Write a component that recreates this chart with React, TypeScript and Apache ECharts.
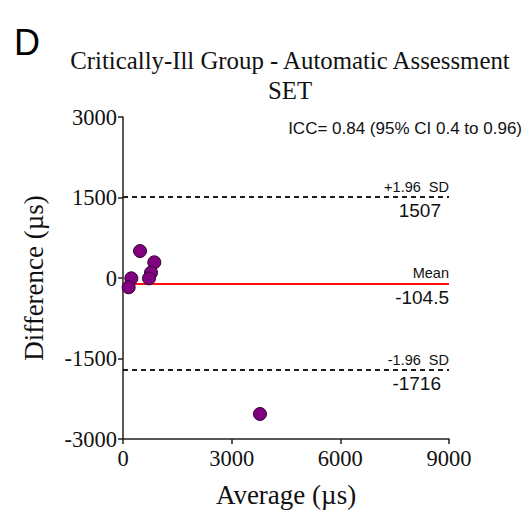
import React, { useEffect, useRef } from "react";
import * as echarts from "echarts";

const averages = [470, 864, 773, 718, 230, 157, 3781];
const differences = [503, 292, 99, -6, -6, -173, -2534];
const upperLoA = 1507;
const meanDiff = -104.5;
const lowerLoA = -1716;
const yTicks = [-3000, -1500, 0, 1500, 3000];
const xTicks = [0, 3000, 6000, 9000];

export default function App() {
  const ref = useRef<HTMLDivElement>(null);
  useEffect(() => {
    const chart = echarts.init(ref.current!, null, { renderer: "svg" });
    const serif = "Liberation Serif";
    const sans = "Liberation Sans";
    const topLbl = (t: string) => ({
      show: true,
      position: "insideEndTop" as const,
      formatter: t,
      fontFamily: sans,
      fontSize: 14.5,
      color: "#111",
      distance: [0, 3],
    });
    const botLbl = (t: string, dx: number) => ({
      show: true,
      position: "insideEndBottom" as const,
      formatter: t,
      fontFamily: sans,
      fontSize: 19,
      color: "#111",
      distance: [dx, 4],
    });
    const dashed = { color: "#111", type: [5, 4] as any, width: 1.5 };
    const red = { color: "#ff0000", type: "solid" as const, width: 1.5 };
    chart.setOption({
      animation: false,
      backgroundColor: "#fff",
      title: {
        text: "Critically-Ill Group - Automatic Assessment\nSET",
        left: 285,
        textAlign: "center",
        top: 40,
        textStyle: { fontFamily: serif, fontSize: 24.8, fontWeight: "normal", color: "#111", lineHeight: 30 },
      },
      graphic: [
        { type: "text", left: 14, top: 24, style: { text: "D", fontFamily: sans, fontSize: 36, fill: "#000" } },
        { type: "text", right: 10, top: 120, style: { text: "ICC= 0.84 (95% CI 0.4 to 0.96)", fontFamily: sans, fontSize: 17, fill: "#111" } },
      ],
      grid: { left: 123, right: 83, top: 117, bottom: 86 },
      xAxis: {
        type: "value",
        min: xTicks[0],
        max: xTicks[xTicks.length - 1],
        interval: 3000,
        name: "Average (µs)",
        nameLocation: "middle",
        nameGap: 42,
        nameTextStyle: { fontFamily: serif, fontSize: 27, color: "#111" },
        axisLine: { show: true, onZero: false, lineStyle: { color: "#222", width: 1.5 } },
        axisTick: { show: true, length: 5, lineStyle: { color: "#222", width: 1.5 } },
        axisLabel: { fontFamily: serif, fontSize: 22.5, color: "#111", margin: 8, formatter: (v: number) => String(v) },
        splitLine: { show: false },
      },
      yAxis: {
        type: "value",
        min: yTicks[0],
        max: yTicks[yTicks.length - 1],
        interval: 1500,
        name: "Difference (µs)",
        nameLocation: "middle",
        nameGap: 76,
        nameTextStyle: { fontFamily: serif, fontSize: 27, color: "#111" },
        axisLine: { show: true, onZero: false, lineStyle: { color: "#222", width: 1.5 } },
        axisTick: { show: true, length: 5, lineStyle: { color: "#222", width: 1.5 } },
        axisLabel: { fontFamily: serif, fontSize: 22.5, color: "#111", margin: 6, formatter: (v: number) => String(v) },
        splitLine: { show: false },
      },
      series: [
        {
          type: "scatter",
          data: averages.map((a, i) => [a, differences[i]]),
          symbolSize: 13,
          itemStyle: { color: "#800080", borderColor: "#300030", borderWidth: 1, opacity: 1 },
          z: 5,
          markLine: {
            silent: true,
            symbol: "none",
            data: [
              { yAxis: upperLoA, lineStyle: dashed, label: topLbl("+1.96  SD") },
              { yAxis: upperLoA, lineStyle: dashed, label: botLbl(String(upperLoA), 8) },
              { yAxis: meanDiff, lineStyle: red, label: topLbl("Mean") },
              { yAxis: meanDiff, lineStyle: red, label: botLbl(String(meanDiff), 0) },
              { yAxis: lowerLoA, lineStyle: dashed, label: topLbl("-1.96  SD") },
              { yAxis: lowerLoA, lineStyle: dashed, label: botLbl(String(lowerLoA), 8) },
            ],
          },
        },
      ],
    });
    return () => chart.dispose();
  }, []);
  return <div ref={ref} style={{ position: "absolute", left: 0, top: 0, width: 532, height: 525 }} />;
}
